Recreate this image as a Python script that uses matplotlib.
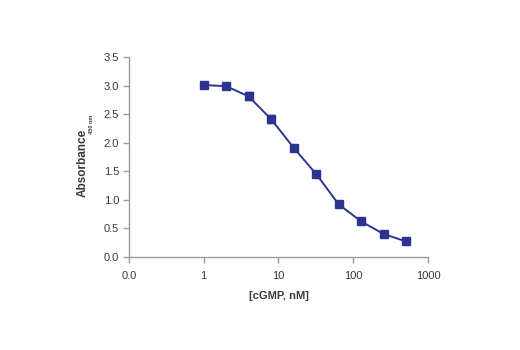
import matplotlib
matplotlib.use("Agg")
import matplotlib.pyplot as plt
from matplotlib import font_manager

# cGMP standard curve (competitive ELISA)
conc_nM = [1, 2, 4, 8, 16, 32, 64, 128, 256, 512]
absorbance = [3.01, 2.99, 2.81, 2.41, 1.91, 1.45, 0.92, 0.62, 0.40, 0.27]
abs_err = [0.03, 0.05, 0.07, 0.07, 0.03, 0.03, 0.03, 0.03, 0.03, 0.02]

x_ticks = [0.1, 1, 10, 100, 1000]
x_tick_labels = ["0.0", "1", "10", "100", "1000"]
y_ticks = [0.0, 0.5, 1.0, 1.5, 2.0, 2.5, 3.0, 3.5]

installed = {f.name for f in font_manager.fontManager.ttflist}
family = "Liberation Sans Narrow" if "Liberation Sans Narrow" in installed else "Liberation Sans"
plt.rcParams["font.family"] = [family, "DejaVu Sans"]

line_col = "#2b3590"
axis_col = "#9a9a9a"
text_col = "#3a3a3a"

fig = plt.figure(figsize=(5.2, 3.5), dpi=100)
ax = fig.add_axes([0.248, 0.266, 0.575, 0.571])

ax.errorbar(conc_nM, absorbance, yerr=abs_err, color=line_col, lw=1.4,
            marker="s", markersize=6.3, markeredgecolor=line_col,
            ecolor=line_col, elinewidth=1.0, capsize=3, capthick=1.0)

ax.set_xscale("log")
ax.set_xlim(0.1, 1000)
ax.set_ylim(0, 3.5)
ax.set_xticks(x_ticks)
ax.set_xticklabels(x_tick_labels)
ax.minorticks_off()
ax.set_yticks(y_ticks)
ax.set_yticklabels([f"{v:.1f}" for v in y_ticks])

for side in ("top", "right"):
    ax.spines[side].set_visible(False)
for side in ("left", "bottom"):
    ax.spines[side].set_color(axis_col)
    ax.spines[side].set_linewidth(1.0)
ax.tick_params(axis="both", direction="out", length=4, width=1.0,
               color=axis_col, labelcolor=text_col, labelsize=8, pad=3)
ax.tick_params(axis="x", pad=6)

ax.set_xlabel("[cGMP, nM]", fontsize=8, fontweight="bold", color=text_col, labelpad=7)

# y label with tiny wavelength subscript
fig.text(0.160, 0.535, "Absorbance", rotation=90, ha="center", va="center",
         fontsize=8.5, fontweight="bold", color=text_col)
fig.text(0.176, 0.645, "450 nm", rotation=90, ha="center", va="center",
         fontsize=4, fontweight="bold", color=text_col)

fig.savefig("out.png", dpi=100)
